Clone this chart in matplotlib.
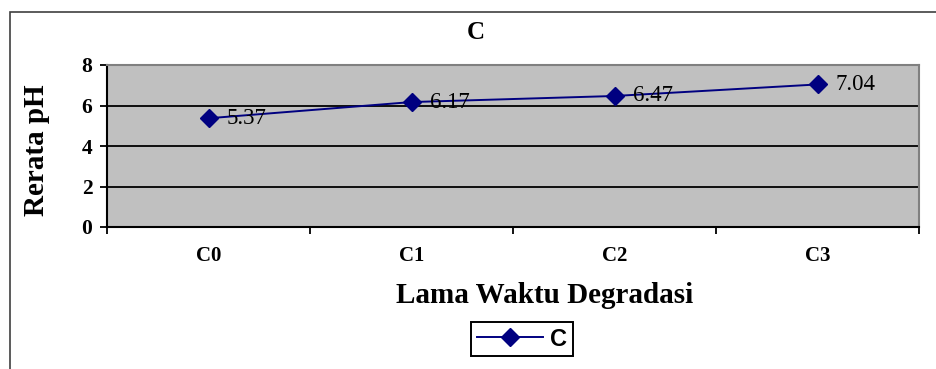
import numpy as np
import matplotlib.pyplot as plt
from matplotlib.patches import Rectangle
from matplotlib.lines import Line2D

# data
categories = ["C0", "C1", "C2", "C3"]
ph_values = [5.37, 6.17, 6.47, 7.04]
y_ticks = [0, 2, 4, 6, 8]

W, H = 936, 369
fig = plt.figure(figsize=(W / 100, H / 100), dpi=100)
fig.patch.set_facecolor("white")

serif = "Liberation Serif"
navy = "#000080"

# outer chart frame (continues past right/bottom edge)
fig.patches.append(Rectangle((10 / W, -0.1), 1.2, (H - 12) / H + 0.1,
                             transform=fig.transFigure, fill=False,
                             edgecolor="#404040", linewidth=1.2))

# plot area in pixel coords
left, right, top, bottom = 107, 919, 65, 227
ax = fig.add_axes([left / W, (H - bottom) / H, (right - left) / W, (bottom - top) / H])
ax.set_facecolor("#C0C0C0")

x = np.arange(len(categories))
ax.plot(x, ph_values, color=navy, linewidth=1.4, marker="D", markersize=9,
        markerfacecolor=navy, markeredgecolor=navy, zorder=3)

for xi, v in zip(x, ph_values):
    ax.annotate(f"{v:.2f}", (xi, v), xytext=(13, 0), textcoords="offset points",
                ha="left", va="center", fontsize=16.5, family=serif, color="black", zorder=4)

ax.set_xlim(-0.5, len(categories) - 0.5)
ax.set_ylim(0, 8)
ax.set_yticks(y_ticks)
ax.set_yticklabels([str(t) for t in y_ticks], fontsize=15.5, family=serif, fontweight="bold")
for t in y_ticks[1:-1]:
    ax.axhline(t, color="black", linewidth=1.3, zorder=1)

# category axis: ticks between categories
ax.set_xticks(np.arange(len(categories) + 1) - 0.5, minor=False)
ax.set_xticklabels([])
ax.set_xticks(x, minor=True)
ax.set_xticklabels(categories, minor=True, fontsize=15, family=serif, fontweight="bold")
ax.tick_params(axis="x", which="minor", length=0, pad=14)
ax.tick_params(axis="x", which="major", length=5, width=1.3, direction="out")
ax.tick_params(axis="y", length=5, width=1.3, direction="out", pad=5.5)

ax.spines["left"].set_color("black")
ax.spines["bottom"].set_color("black")
ax.spines["left"].set_linewidth(1.5)
ax.spines["bottom"].set_linewidth(1.5)
ax.spines["top"].set_color("#808080")
ax.spines["right"].set_color("#808080")
ax.spines["top"].set_linewidth(1.5)
ax.spines["right"].set_linewidth(1.5)

fig.text(476 / W, 1 - 39 / H, "C", ha="center", va="baseline", fontsize=18,
         family=serif, fontweight="bold")
fig.text(36 / W, 1 - 150 / H, "Rerata pH", ha="center", va="center", rotation=90,
         fontsize=21, family=serif, fontweight="bold")
fig.text(545 / W, 1 - 303 / H, "Lama Waktu Degradasi", ha="center", va="baseline",
         fontsize=21, family=serif, fontweight="bold")

handle = Line2D([], [], color=navy, linewidth=1.4, marker="D", markersize=9,
                markerfacecolor=navy, markeredgecolor=navy)
leg = fig.legend([handle], ["C"], loc="center", bbox_to_anchor=(522 / W, 1 - 339 / H),
                 frameon=True, fancybox=False, framealpha=1, edgecolor="black",
                 prop={"family": "Liberation Sans", "weight": "bold", "size": 17},
                 handlelength=2.8, handletextpad=0.3, borderpad=0.25, borderaxespad=0)
leg.get_frame().set_linewidth(1.4)

fig.savefig("out.png", dpi=100, facecolor="white")
